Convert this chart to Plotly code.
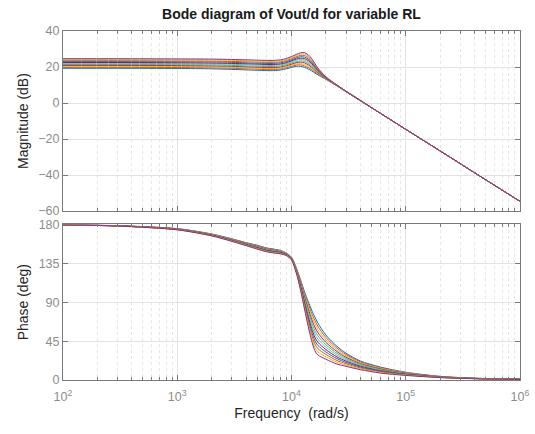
import plotly.graph_objects as go

freq = [1e2, 3e2, 1e3, 2e3, 3e3, 4e3, 5e3, 6e3, 7e3, 8e3, 9e3,
        1e4, 1.1e4, 1.2e4, 1.3e4, 1.4e4, 1.5e4, 1.6e4, 1.7e4, 2e4,
        2.5e4, 3e4, 4e4, 6e4, 1e5, 2e5, 4e5, 1e6]

# magnitude (dB), one list per RL value
mag_01 = [19.3, 19.3, 19.2, 19.0, 18.7, 18.4, 18.2, 18.0, 18.0, 18.3, 19.0, 19.8, 20.4, 20.4, 19.8, 18.9, 17.9, 16.7, 15.7, 13.2, 9.5, 6.3, 1.3, -5.7, -14.6, -26.6, -38.7, -54.6]
mag_02 = [19.8, 19.8, 19.7, 19.5, 19.3, 19.0, 18.8, 18.6, 18.6, 18.9, 19.6, 20.4, 21.1, 21.2, 20.6, 19.7, 18.6, 17.2, 16.1, 13.3, 9.6, 6.3, 1.3, -5.7, -14.6, -26.6, -38.7, -54.6]
mag_03 = [20.4, 20.4, 20.3, 20.1, 19.8, 19.5, 19.3, 19.1, 19.1, 19.4, 20.1, 21.0, 21.7, 21.9, 21.4, 20.5, 19.3, 17.8, 16.5, 13.5, 9.6, 6.4, 1.3, -5.7, -14.6, -26.6, -38.7, -54.6]
mag_04 = [20.9, 20.9, 20.8, 20.6, 20.4, 20.1, 19.9, 19.7, 19.7, 20.0, 20.7, 21.6, 22.4, 22.7, 22.3, 21.3, 19.9, 18.3, 16.8, 13.6, 9.7, 6.4, 1.4, -5.7, -14.6, -26.6, -38.7, -54.6]
mag_05 = [21.4, 21.4, 21.3, 21.2, 20.9, 20.6, 20.4, 20.3, 20.3, 20.6, 21.3, 22.2, 23.0, 23.4, 23.1, 22.1, 20.6, 18.8, 17.2, 13.8, 9.7, 6.4, 1.4, -5.7, -14.6, -26.6, -38.7, -54.6]
mag_06 = [22.0, 22.0, 21.9, 21.7, 21.5, 21.2, 21.0, 20.9, 20.9, 21.2, 21.9, 22.8, 23.7, 24.2, 23.9, 22.9, 21.3, 19.4, 17.6, 13.9, 9.8, 6.5, 1.4, -5.7, -14.6, -26.6, -38.7, -54.6]
mag_07 = [22.5, 22.5, 22.4, 22.2, 22.0, 21.8, 21.6, 21.4, 21.4, 21.7, 22.4, 23.4, 24.4, 24.9, 24.7, 23.6, 22.0, 19.9, 18.0, 14.0, 9.8, 6.5, 1.4, -5.7, -14.6, -26.6, -38.7, -54.6]
mag_08 = [23.0, 23.0, 22.9, 22.8, 22.6, 22.3, 22.1, 22.0, 22.0, 22.3, 23.0, 24.0, 25.0, 25.7, 25.5, 24.4, 22.7, 20.4, 18.4, 14.2, 9.9, 6.5, 1.4, -5.7, -14.6, -26.6, -38.7, -54.6]
mag_09 = [23.5, 23.5, 23.4, 23.3, 23.1, 22.9, 22.7, 22.6, 22.6, 22.9, 23.6, 24.6, 25.7, 26.4, 26.4, 25.2, 23.3, 20.9, 18.7, 14.3, 9.9, 6.6, 1.5, -5.7, -14.6, -26.6, -38.7, -54.6]
mag_10 = [24.1, 24.1, 24.0, 23.9, 23.7, 23.4, 23.2, 23.1, 23.1, 23.4, 24.1, 25.2, 26.3, 27.2, 27.2, 26.0, 24.0, 21.5, 19.1, 14.5, 10.0, 6.6, 1.5, -5.7, -14.6, -26.6, -38.7, -54.6]
mag_11 = [24.6, 24.6, 24.5, 24.4, 24.2, 24.0, 23.8, 23.7, 23.7, 24.0, 24.7, 25.8, 27.0, 27.9, 28.0, 26.8, 24.7, 22.0, 19.5, 14.6, 10.0, 6.6, 1.5, -5.7, -14.6, -26.6, -38.7, -54.6]

# phase (deg), one list per RL value
ph_01 = [179.6, 178.6, 175.2, 169.0, 163.5, 159.0, 156.0, 153.0, 151.5, 150.0, 147.0, 142.0, 130.0, 116.0, 102.0, 91.0, 81.0, 73.0, 66.0, 52.0, 39.0, 31.0, 22.0, 15.0, 9.0, 4.2, 2.1, 1.0]
ph_02 = [179.6, 178.6, 175.1, 168.8, 163.2, 158.7, 155.6, 152.6, 151.1, 149.6, 146.7, 141.7, 129.4, 114.8, 100.0, 88.1, 77.5, 69.1, 62.3, 49.2, 37.0, 29.5, 21.0, 14.3, 8.6, 4.1, 2.0, 1.0]
ph_03 = [179.6, 178.5, 174.9, 168.6, 162.9, 158.3, 155.1, 152.1, 150.6, 149.2, 146.4, 141.4, 128.8, 113.6, 98.0, 85.2, 73.9, 65.2, 58.6, 46.4, 34.9, 28.0, 20.0, 13.6, 8.3, 3.9, 2.0, 0.9]
ph_04 = [179.5, 178.5, 174.8, 168.3, 162.6, 158.0, 154.7, 151.7, 150.2, 148.8, 146.1, 141.1, 128.2, 112.4, 96.0, 82.3, 70.4, 61.3, 54.9, 43.6, 32.9, 26.4, 19.0, 12.9, 7.9, 3.8, 1.9, 0.9]
ph_05 = [179.5, 178.4, 174.6, 168.1, 162.3, 157.6, 154.2, 151.2, 149.7, 148.4, 145.8, 140.8, 127.6, 111.2, 94.0, 79.4, 66.8, 57.4, 51.2, 40.8, 30.8, 24.9, 18.0, 12.2, 7.5, 3.6, 1.9, 0.8]
ph_06 = [179.5, 178.4, 174.5, 167.9, 162.0, 157.3, 153.8, 150.8, 149.3, 148.0, 145.5, 140.5, 127.0, 110.0, 92.0, 76.5, 63.3, 53.5, 47.5, 38.0, 28.8, 23.4, 17.0, 11.5, 7.2, 3.5, 1.8, 0.8]
ph_07 = [179.5, 178.4, 174.4, 167.7, 161.7, 156.9, 153.3, 150.3, 148.8, 147.6, 145.2, 140.2, 126.4, 108.8, 90.0, 73.6, 59.7, 49.6, 43.8, 35.2, 26.7, 21.9, 16.0, 10.8, 6.8, 3.4, 1.7, 0.8]
ph_08 = [179.5, 178.3, 174.2, 167.5, 161.4, 156.6, 152.9, 149.9, 148.4, 147.2, 144.9, 139.9, 125.8, 107.6, 88.0, 70.7, 56.2, 45.7, 40.1, 32.4, 24.7, 20.4, 15.0, 10.1, 6.4, 3.2, 1.7, 0.7]
ph_09 = [179.4, 178.3, 174.1, 167.2, 161.1, 156.2, 152.4, 149.4, 147.9, 146.8, 144.6, 139.6, 125.2, 106.4, 86.0, 67.8, 52.6, 41.8, 36.4, 29.6, 22.6, 18.8, 14.0, 9.4, 6.0, 3.1, 1.6, 0.7]
ph_10 = [179.4, 178.2, 173.9, 167.0, 160.8, 155.9, 152.0, 149.0, 147.5, 146.4, 144.3, 139.3, 124.6, 105.2, 84.0, 64.9, 49.1, 37.9, 32.7, 26.8, 20.6, 17.3, 13.0, 8.7, 5.7, 2.9, 1.6, 0.6]
ph_11 = [179.4, 178.2, 173.8, 166.8, 160.5, 155.5, 151.5, 148.5, 147.0, 146.0, 144.0, 139.0, 124.0, 104.0, 82.0, 62.0, 45.5, 34.0, 29.0, 24.0, 18.5, 15.8, 12.0, 8.0, 5.3, 2.8, 1.5, 0.6]

mag_curves = [mag_01, mag_02, mag_03, mag_04, mag_05, mag_06, mag_07, mag_08, mag_09, mag_10, mag_11]
ph_curves = [ph_01, ph_02, ph_03, ph_04, ph_05, ph_06, ph_07, ph_08, ph_09, ph_10, ph_11]

x_ticks = [1e2, 1e3, 1e4, 1e5, 1e6]
x_ticktext = ["10<sup>2</sup>", "10<sup>3</sup>", "10<sup>4</sup>", "10<sup>5</sup>", "10<sup>6</sup>"]
x_minor = [m * 10 ** e for e in range(2, 6) for m in range(2, 10)]
mag_ticks = [-60, -40, -20, 0, 20, 40]
ph_ticks = [0, 45, 90, 135, 180]

# matlab default color order
colors = ["#0072BD", "#D95319", "#EDB120", "#7E2F8E", "#77AC30", "#4DBEEE", "#A2142F"]

fnt = "Liberation Sans, Arial, sans-serif"
axcol = "#7a7a7a"
tickcol = "#8c8c8c"
gridcol = "#e3e3e3"

fig = go.Figure()
for i in range(len(mag_curves)):
    c = colors[i % len(colors)]
    fig.add_trace(go.Scatter(x=freq, y=mag_curves[i], mode="lines", xaxis="x", yaxis="y",
                             line=dict(color=c, width=1.0, shape="spline", smoothing=0.8),
                             hoverinfo="skip", showlegend=False))
    fig.add_trace(go.Scatter(x=freq, y=ph_curves[i], mode="lines", xaxis="x2", yaxis="y2",
                             line=dict(color=c, width=1.0, shape="spline", smoothing=0.8),
                             hoverinfo="skip", showlegend=False))

xcommon = dict(type="log", range=[2, 6], tickmode="array", tickvals=x_ticks, automargin=False,
               ticks="inside", ticklen=5, tickcolor=axcol, showline=True, linecolor=axcol,
               linewidth=1, mirror="allticks", showgrid=True, gridcolor=gridcol, zeroline=False,
               minor=dict(tickmode="array", tickvals=x_minor, ticks="inside", ticklen=3,
                          tickcolor=axcol, showgrid=True, gridcolor="#e6e6e6", griddash="dot"))
ycommon = dict(ticks="inside", ticklen=5, tickcolor=axcol, showline=True, linecolor=axcol,
               linewidth=1, mirror="allticks", showgrid=True, gridcolor=gridcol, zeroline=False,
               tickfont=dict(family=fnt, size=12.5, color=tickcol), tickmode="array",
               automargin=False)

fig.update_layout(
    width=535, height=434,
    margin=dict(l=63, r=15, t=31, b=54),
    paper_bgcolor="white", plot_bgcolor="white",
    font=dict(family=fnt, size=13, color="#262626"),
    title=dict(text="<b>Bode diagram of Vout/d for variable RL</b>", x=0.5, xref="paper",
               xanchor="center", y=0.968, yref="container", yanchor="middle",
               font=dict(family=fnt, size=14, color="#1a1a1a")),
    xaxis=dict(xcommon, anchor="y", showticklabels=False),
    xaxis2=dict(xcommon, anchor="y2", ticktext=x_ticktext, ticklabelstandoff=5,
                tickfont=dict(family=fnt, size=12.5, color=tickcol),
                title=dict(text="Frequency\u00a0 (rad/s)", font=dict(family=fnt, size=14, color="#262626"),
                           standoff=5)),
    yaxis=dict(ycommon, domain=[0.484, 1], range=[-60, 40], tickvals=mag_ticks,
               title=dict(text="Magnitude (dB)", font=dict(family=fnt, size=14, color="#262626"),
                          standoff=6)),
    yaxis2=dict(ycommon, domain=[0, 0.4456], range=[0, 180], tickvals=ph_ticks,
                title=dict(text="Phase (deg)", font=dict(family=fnt, size=14, color="#262626"),
                           standoff=6)),
)

# page has a default body margin; drop it so the figure sits at the top-left corner
fig.write_html("out.html", config={"displayModeBar": False},
               post_script="document.body.style.margin='0px';")
